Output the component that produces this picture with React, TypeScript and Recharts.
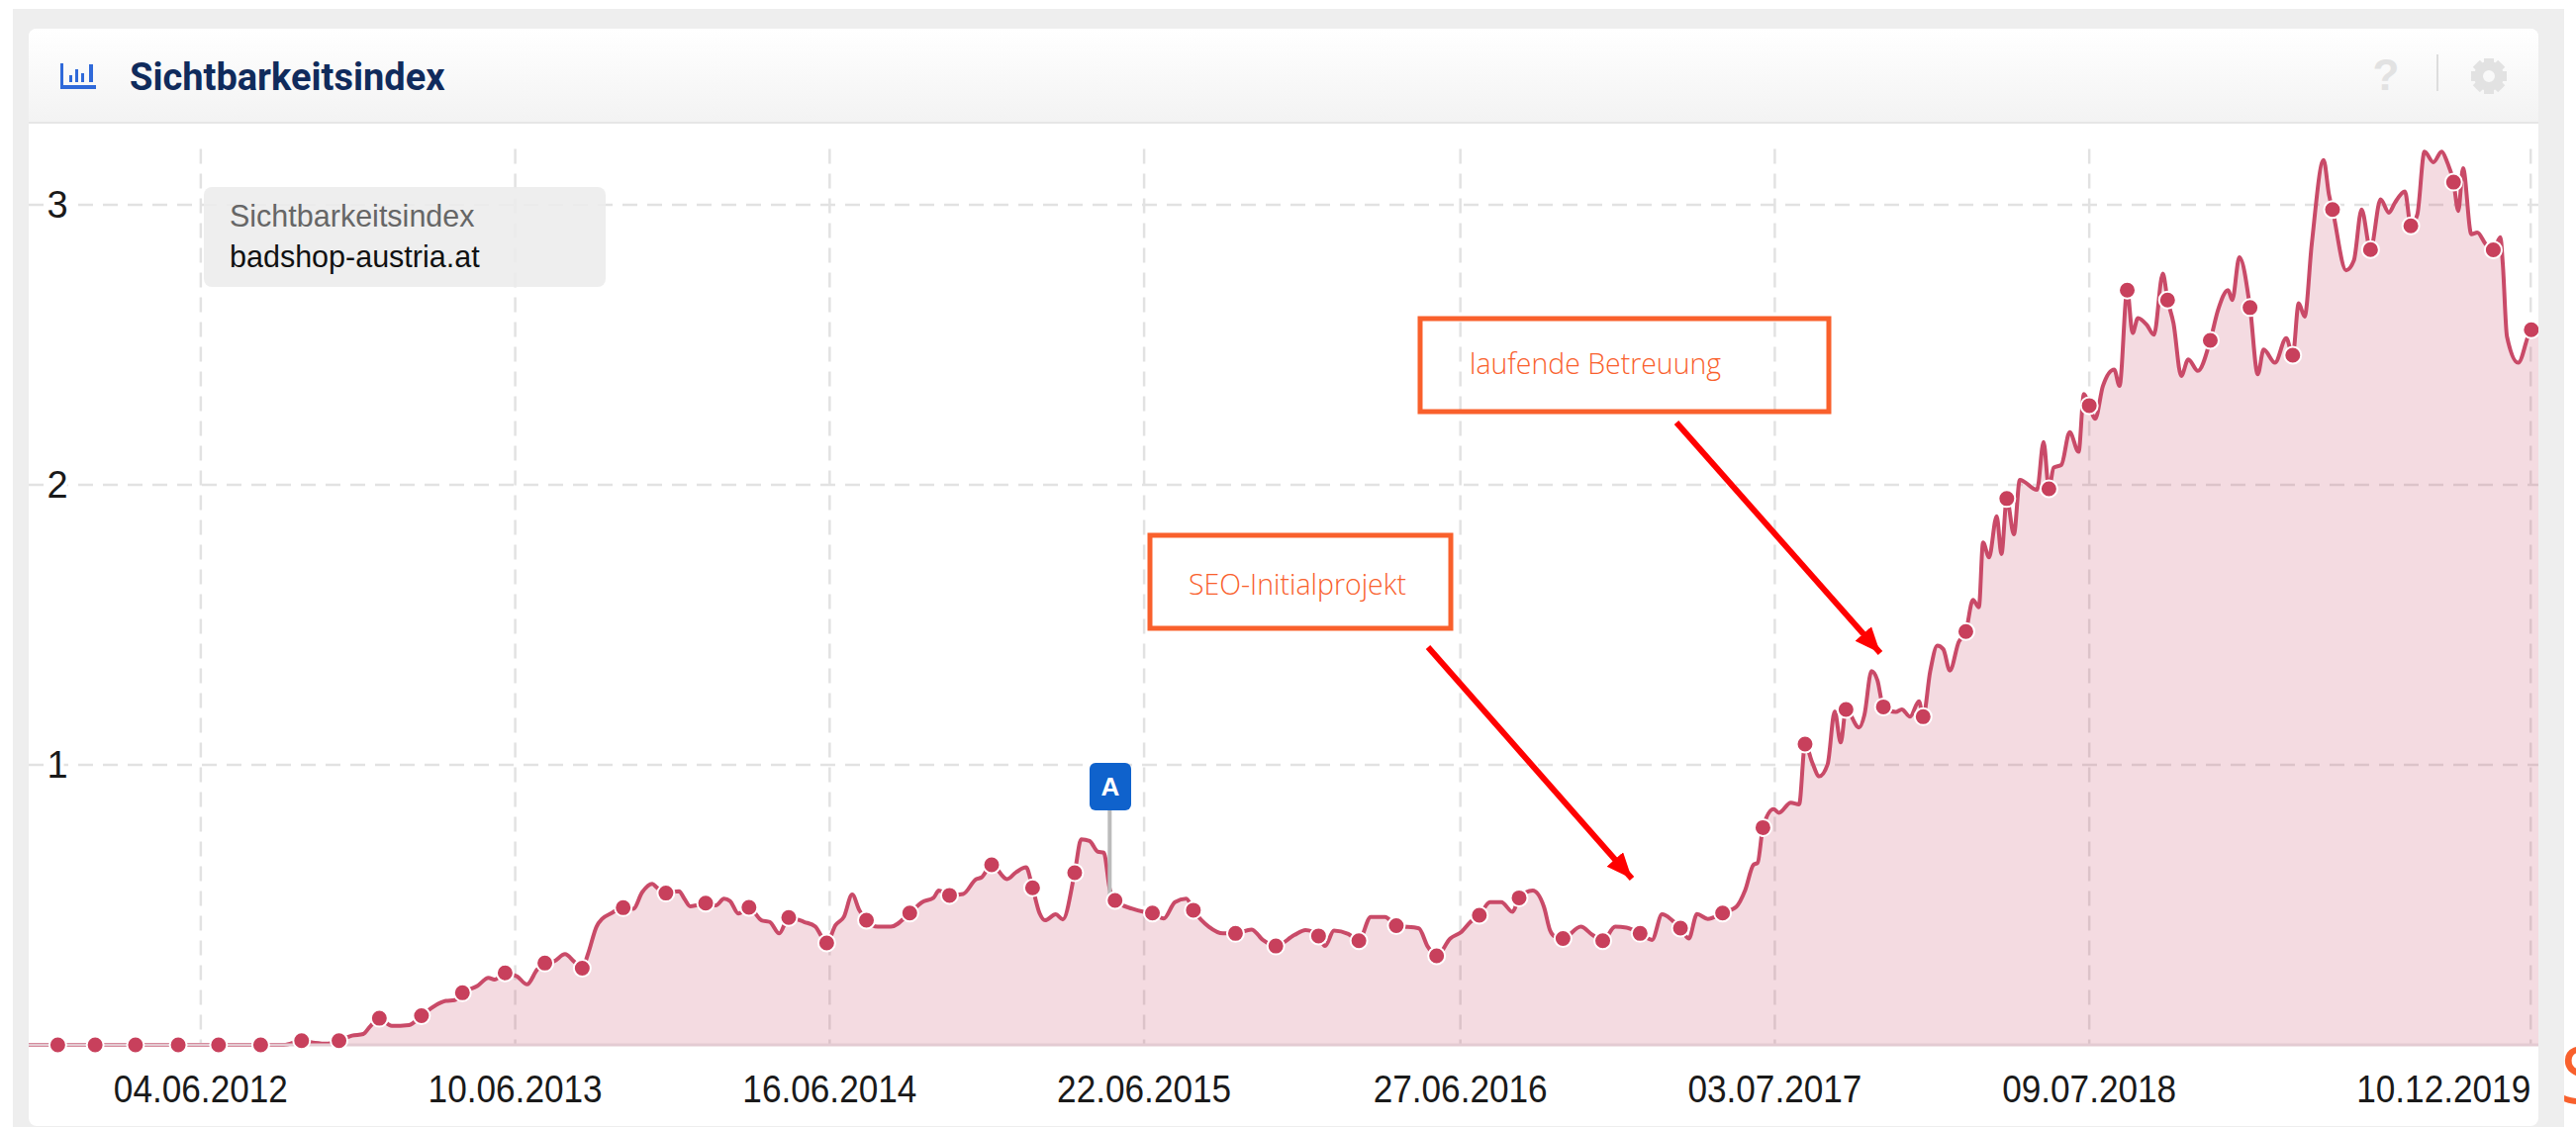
import { Area, CartesianGrid, ComposedChart, ReferenceLine, XAxis, YAxis } from "recharts";

// x position of every reading, in weeks after 04.06.2012
const weeks = [
  -29, -24.1, -17.8, -11, -3.8, 3, 10.1, 14, 17, 19.3, 21.2, 23.3, 25.5, 27.4, 28.4, 30.1, 32.2, 35.1, 37.2, 39.4,
  41.3, 42.8, 44.1, 46.6, 48.5, 49.5, 51.3, 53.3, 55, 56.7, 58, 59.5, 61.4, 62.9, 64.3, 65.3, 66.7, 67.7, 69.1, 71.2,
  72.9, 74.4, 76.1, 76.8, 78.4, 80.6, 81.5, 82.5, 83.5, 85.1, 86.8, 88.2, 89.2, 90.6, 92.4, 94.5, 95.9, 97.5, 99.1, 101.7,
  103.6, 104.5, 105.5, 107, 108.4, 109.8, 111, 112.2, 114.1, 116.3, 119.5, 121.6, 123.5, 124.4, 126.2, 128.5, 130.7, 131.6, 133.3, 135.9,
  137.4, 139.1, 140.2, 141.4, 142.3, 144.1, 145.3, 147.3, 148.4, 149.8, 151.2, 152.2, 153.2, 154.1, 157, 158.9, 160.4, 162.3, 164.2, 166.1,
  167.3, 169.9, 172.3, 174.4, 177.1, 179, 181.2, 184.3, 186.2, 188.4, 189.5, 191, 193.4, 195.2, 197.2, 199.6, 201.5, 205.3, 206.8, 208.3,
  210.6, 212.5, 214, 215.5, 217.3, 219.2, 221.1, 222.2, 224.5, 226.4, 227.4, 228.3, 229.6, 232.6, 234.6, 236.3, 238.4, 240.3, 242.6, 244.6,
  246.3, 248, 249.4, 250.8, 252.2, 254, 256.5, 258.8, 260.3, 261.7, 262.4, 263.3, 265.1, 266, 268, 269.4, 270.4, 271.6, 272.8, 274.2,
  275.4, 276.4, 277.3, 279.5, 280.4, 281.6, 282.6, 283.6, 285.7, 286.7, 288.1, 289.6, 290.3, 291.5, 292.7, 293.7, 294.8, 296.3, 297.5, 298.7,
  299.7, 300.4, 301.4, 302.7, 303.5, 304.4, 305.6, 306.6, 309.5, 310.6, 311.5, 312.3, 313.6, 315, 316.5, 317.4, 318.3, 319.3, 320.6, 322.5,
  323.4, 324.7, 325.6, 326.5, 328, 329.2, 330.7, 331.5, 332.5, 333.8, 335, 336.6, 338.7, 340, 341.7, 342.4, 343.6, 345.4, 346.7, 347.7,
  349.6, 351.5, 352.6, 353.6, 354.6, 355.8, 357.8, 358.7, 359.3, 361.6, 362.9, 364.2, 365.7, 367.4, 368.8, 369.8, 371.5, 372.5, 373.6, 374.8,
  376.3, 377.7, 378.6, 379.7, 380.5, 381.3, 382.7, 383.7, 385.1, 386.4, 387.6, 388, 388.7, 390.6, 392.8, 394,
];

const values = [
  0, 0, 0, 0, 0, 0, 0, 0, 0.015, 0.007, 0.004, 0.015, 0.033, 0.039, 0.062, 0.095, 0.068, 0.071, 0.104, 0.139,
  0.157, 0.16, 0.186, 0.21, 0.239, 0.233, 0.257, 0.245, 0.216, 0.269, 0.292, 0.298, 0.324, 0.298, 0.274, 0.327, 0.422, 0.451, 0.469, 0.49,
  0.486, 0.545, 0.575, 0.563, 0.542, 0.549, 0.522, 0.495, 0.498, 0.506, 0.498, 0.522, 0.514, 0.469, 0.491, 0.445, 0.439, 0.398, 0.455, 0.439,
  0.422, 0.392, 0.364, 0.428, 0.457, 0.537, 0.481, 0.445, 0.422, 0.422, 0.471, 0.51, 0.525, 0.551, 0.534, 0.539, 0.592, 0.598, 0.643, 0.592,
  0.616, 0.634, 0.561, 0.469, 0.445, 0.466, 0.448, 0.615, 0.734, 0.728, 0.69, 0.687, 0.557, 0.516, 0.486, 0.475, 0.471, 0.451, 0.51, 0.522,
  0.481, 0.422, 0.398, 0.398, 0.412, 0.375, 0.353, 0.392, 0.41, 0.389, 0.353, 0.408, 0.396, 0.372, 0.457, 0.457, 0.426, 0.416, 0.351, 0.318,
  0.38, 0.404, 0.439, 0.463, 0.51, 0.51, 0.475, 0.525, 0.551, 0.492, 0.41, 0.386, 0.38, 0.422, 0.392, 0.372, 0.422, 0.419, 0.398, 0.375,
  0.466, 0.445, 0.417, 0.38, 0.467, 0.45, 0.471, 0.493, 0.552, 0.643, 0.65, 0.776, 0.842, 0.829, 0.865, 0.859, 1.074, 1.009, 0.959, 1.002,
  1.191, 1.08, 1.198, 1.133, 1.178, 1.335, 1.302, 1.207, 1.189, 1.198, 1.172, 1.227, 1.172, 1.335, 1.426, 1.413, 1.337, 1.439, 1.476, 1.589,
  1.563, 1.794, 1.741, 1.888, 1.753, 1.951, 1.823, 2.018, 1.982, 2.153, 1.986, 2.061, 2.071, 2.188, 2.118, 2.324, 2.283, 2.236, 2.353, 2.412,
  2.353, 2.695, 2.542, 2.595, 2.571, 2.536, 2.754, 2.66, 2.577, 2.389, 2.448, 2.407, 2.516, 2.624, 2.695, 2.66, 2.813, 2.633, 2.395, 2.483,
  2.436, 2.524, 2.463, 2.648, 2.601, 2.86, 3.16, 3.037, 2.983, 2.766, 2.801, 2.983, 2.84, 3.019, 2.972, 3.007, 3.048, 2.925, 2.966, 3.19,
  3.152, 3.19, 3.154, 3.081, 2.978, 3.131, 2.895, 2.901, 2.86, 2.839, 2.884, 2.789, 2.53, 2.436, 2.554, 2.56,
];

// readings that carry a round marker
const markedWeeks = [
  -24.1, -17.8, -11, -3.8, 3, 10.1, 17, 23.3, 30.1, 37.2, 44.1, 51.3, 58, 64.3, 71.2, 78.4, 85.1, 92.4, 99.1, 105.5,
  112.2, 119.5, 126.2, 133.3, 140.2, 147.3, 154.1, 160.4, 167.3, 174.4, 181.2, 188.4, 195.2, 201.5, 208.3, 215.5, 222.2, 229.6, 236.3, 242.6,
  249.4, 256.5, 263.3, 270.4, 277.3, 283.6, 290.3, 297.5, 304.4, 311.5, 318.3, 324.7, 331.5, 338.7, 345.4, 352.6, 359.3, 365.7, 372.5, 379.7,
  386.4, 392.8,
];

const tickWeeks = [0, 53, 106, 159, 212.3, 265.3, 318.3, 392.7];
const tickLabels = ["04.06.2012", "10.06.2013", "16.06.2014", "22.06.2015", "27.06.2016", "03.07.2017", "09.07.2018", "10.12.2019"];
const yTicks = [1, 2, 3];
const alertWeek = 153.2;

const rows = weeks.map((week, i) => ({ week, index: values[i], marked: markedWeeks.includes(week) }));

const LINE = "#c94a68";
const ORANGE = "#f9602c";
const ARIAL = "'Liberation Sans', Arial, sans-serif";

function XTick(props: any) {
  const { x, y, index } = props;
  const last = index === tickLabels.length - 1;
  return (
    <text
      x={x}
      y={y + 50}
      textAnchor={last ? "end" : "middle"}
      fontFamily={ARIAL}
      fontSize={38}
      fill="#1a1a1a"
      textLength={176}
      lengthAdjust="spacingAndGlyphs"
    >
      {tickLabels[index]}
    </text>
  );
}

function YTick(props: any) {
  const { y, payload } = props;
  return (
    <text x={29} y={y + 13} textAnchor="middle" fontFamily={ARIAL} fontSize={38} fill="#1a1a1a" stroke="#fff" strokeWidth={8} paintOrder="stroke">
      {payload.value}
    </text>
  );
}

function Marker(props: any) {
  const { cx, cy, payload, key } = props;
  if (!payload?.marked) return <g key={key} />;
  return <circle key={key} cx={cx} cy={cy} r={8.5} fill="#c8405c" stroke="#fff" strokeWidth={2} />;
}

function Gear() {
  const teeth = [0, 45, 90, 135, 180, 225, 270, 315];
  return (
    <g fill="#e2e2e2">
      <circle cx={2515} cy={77} r={10.5} fill="none" stroke="#e2e2e2" strokeWidth={9} />
      {teeth.map((a) => (
        <rect key={a} x={2510} y={59} width={10} height={8} transform={`rotate(${a} 2515 77)`} />
      ))}
    </g>
  );
}

export default function App() {
  return (
    <div style={{ position: "absolute", left: 0, top: 0, width: 2603, height: 1139, overflow: "hidden", background: "#fff" }}>
      <div style={{ position: "absolute", left: 13, top: 9, width: 2578, height: 1130, background: "#eeeeee" }} />
      <div style={{ position: "absolute", left: 29, top: 29, width: 2536, height: 1109, background: "#fff", borderRadius: 8 }} />
      <div
        style={{
          position: "absolute",
          left: 29,
          top: 29,
          width: 2536,
          height: 96,
          borderRadius: "8px 8px 0 0",
          background: "linear-gradient(#ffffff, #f3f3f3)",
          borderBottom: "2px solid #e6e6e6",
          boxSizing: "border-box",
        }}
      />
      <div style={{ position: "absolute", left: 29, top: 125 }}>
        <ComposedChart width={2536} height={1013} data={rows} margin={{ top: 25.4, right: 0, bottom: 0, left: 0 }}>
          <CartesianGrid stroke="#e2e2e2" strokeWidth={2.5} strokeDasharray="15 10" syncWithTicks />
          <XAxis
            dataKey="week"
            type="number"
            height={82}
            domain={[-29, 394]}
            ticks={tickWeeks}
            interval={0}
            tick={XTick}
            tickLine={false}
            axisLine={{ stroke: "#e3cbd2", strokeWidth: 3 }}
          />
          <YAxis mirror width={60} domain={[0, 3.2]} ticks={yTicks} tick={YTick} tickLine={false} axisLine={false} />
          <ReferenceLine segment={[{ x: alertWeek, y: 0.52 }, { x: alertWeek, y: 0.84 }]} stroke="#bbbbbb" strokeWidth={4} />
          <Area
            dataKey="index"
            type="monotone"
            stroke={LINE}
            strokeWidth={4}
            fill={LINE}
            fillOpacity={0.2}
            dot={Marker}
            activeDot={false}
            isAnimationActive={false}
          />
        </ComposedChart>
      </div>

      {/* header */}
      <div style={{ position: "absolute", left: 131, top: 55, fontFamily: "Roboto, sans-serif", fontWeight: 700, fontSize: 38, lineHeight: "46px", color: "#102b5c", whiteSpace: "nowrap" }}>
        Sichtbarkeitsindex
      </div>
      <svg width={2603} height={1139} style={{ position: "absolute", left: 0, top: 0, pointerEvents: "none" }}>
        <g fill="#2f69d9">
          <rect x={61} y={64} width={3} height={26} />
          <rect x={61} y={86} width={36} height={4} />
          <rect x={70} y={76} width={3} height={7} />
          <rect x={76} y={70} width={3} height={13} />
          <rect x={82} y={74} width={3} height={9} />
          <rect x={90} y={65} width={4} height={18} />
        </g>
        <text x={2411} y={91} textAnchor="middle" fontFamily={ARIAL} fontWeight={700} fontSize={44} fill="#e2e2e2">?</text>
        <rect x={2462} y={55} width={2} height={37} fill="#dddddd" />
        <Gear />

        {/* annotations */}
        <defs>
          <marker id="head" markerUnits="userSpaceOnUse" markerWidth={30} markerHeight={24} refX={26} refY={11} orient="auto">
            <path d="M0 0 L26 11 L0 22 Z" fill="#ff0000" />
          </marker>
        </defs>
        <rect x={1162} y={541} width={304} height={94} fill="none" stroke={ORANGE} strokeWidth={5} />
        <rect x={1435} y={322} width={413} height={94} fill="none" stroke={ORANGE} strokeWidth={5} />
        <line x1={1443} y1={654} x2={1649} y2={888} stroke="#ff0000" strokeWidth={6} markerEnd="url(#head)" />
        <line x1={1694} y1={427} x2={1900} y2={660} stroke="#ff0000" strokeWidth={6} markerEnd="url(#head)" />
        <text x={1201} y={601} fontFamily="'Open Sans', sans-serif" fontWeight={300} fontSize={29} fill={ORANGE} textLength={220} lengthAdjust="spacingAndGlyphs">SEO-Initialprojekt</text>
        <text x={1485} y={378} fontFamily="'Open Sans', sans-serif" fontWeight={300} fontSize={29} fill={ORANGE} textLength={254} lengthAdjust="spacingAndGlyphs">laufende Betreuung</text>
        {/* cut-off glyph at the right edge of the screenshot */}
        <text x={2587} y={1115} fontFamily="'Open Sans', sans-serif" fontSize={80} fill={ORANGE}>S</text>
      </svg>

      {/* legend */}
      <div style={{ position: "absolute", left: 206, top: 189, width: 406, height: 101, borderRadius: 8, background: "rgba(236,236,236,0.88)" }}>
        <div style={{ position: "absolute", left: 26, top: 10, fontFamily: ARIAL, fontSize: 30.5, lineHeight: "38px", color: "#666", whiteSpace: "nowrap" }}>Sichtbarkeitsindex</div>
        <div style={{ position: "absolute", left: 26, top: 51, fontFamily: ARIAL, fontSize: 30.5, lineHeight: "38px", color: "#111", whiteSpace: "nowrap" }}>badshop-austria.at</div>
      </div>

      {/* alert flag */}
      <div style={{ position: "absolute", left: 1101, top: 771, width: 42, height: 48, borderRadius: 6, background: "#0f62cc", color: "#fff", fontFamily: ARIAL, fontWeight: 700, fontSize: 26, lineHeight: "48px", textAlign: "center" }}>
        A
      </div>
    </div>
  );
}
